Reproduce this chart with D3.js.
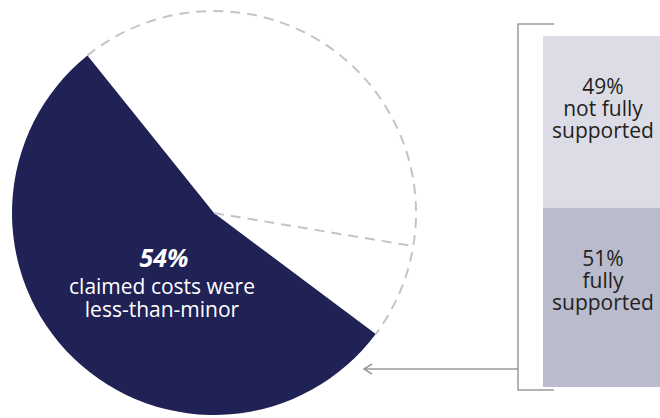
<!DOCTYPE html>
<html lang="en">
<head>
  <meta charset="utf-8" />
  <title>Claimed costs</title>
  <style>
    body { margin: 0; background: #fff; }
    text { font-family: "Open Sans", "Noto Sans", sans-serif; }
  </style>
  <script src="https://d3js.org/d3.v7.min.js"></script>
</head>
<body>
<script>

// pie: share of claims with less-than-minor costs, rest split in two white wedges
const pieLabels = ["less-than-minor", "other", "other-small"];
const pieValues = [54, 38.4, 7.6];
const pieText   = ["54%", "claimed costs were", "less-than-minor"];

// stacked bar on the right (top to bottom)
const barLabels = [["49%", "not fully", "supported"], ["51%", "fully", "supported"]];
const barValues = [49, 51];

const width = 660, height = 418;
const cx = 214, cy = 213, r = 202;
const navy = "#202155";
const dashGrey = "#c4c4c8";
const lineGrey = "#9a9a9e";

const svg = d3.select("body").append("svg")
  .attr("width", width)
  .attr("height", height);

// pie layout, starting at the lower right edge of the dark slice
const start = 126.8 * Math.PI / 180;
const pie = d3.pie().sort(null).startAngle(start).endAngle(start + 2 * Math.PI);
const arcs = pie(pieValues);

const arc = d3.arc().innerRadius(0).outerRadius(r);

const g = svg.append("g").attr("transform", `translate(${cx},${cy})`);

g.append("path")
  .attr("d", arc(arcs[0]))
  .attr("fill", navy);

// dashed outline only round the white part
const outline = d3.path();
outline.arc(0, 0, r, arcs[1].startAngle - Math.PI / 2, arcs[2].endAngle - Math.PI / 2);
g.append("path")
  .attr("d", outline.toString())
  .attr("fill", "none")
  .attr("stroke", dashGrey)
  .attr("stroke-width", 2)
  .attr("stroke-dasharray", "10,7");

// dashed radius between the two white wedges
const split = arcs[2].startAngle;
g.append("line")
  .attr("x1", 0).attr("y1", 0)
  .attr("x2", r * Math.sin(split))
  .attr("y2", -r * Math.cos(split))
  .attr("stroke", dashGrey)
  .attr("stroke-width", 2)
  .attr("stroke-dasharray", "10,7");

// pie label
const pt = svg.append("text")
  .attr("text-anchor", "middle")
  .attr("fill", "#fff");
pt.append("tspan").attr("x", 164).attr("y", 267)
  .attr("font-size", 25).attr("font-weight", "bold").attr("font-style", "italic")
  .text(pieText[0]);
pt.append("tspan").attr("x", 162).attr("y", 294)
  .attr("font-size", 21)
  .text(pieText[1]);
pt.append("tspan").attr("x", 162).attr("y", 317)
  .attr("font-size", 21)
  .text(pieText[2]);

// stacked bar
const y = d3.scaleLinear().domain([0, d3.sum(barValues)]).range([36, 387]);
const barX = 543, barW = 120;
const barColors = ["#dcdce6", "#babbcc"];

let acc = 0;
const bars = barValues.map((v, i) => {
  const b = {y0: y(acc), y1: y(acc + v), lines: barLabels[i], color: barColors[i]};
  acc += v;
  return b;
});

svg.selectAll("rect.bar")
  .data(bars)
  .join("rect")
    .attr("class", "bar")
    .attr("x", barX)
    .attr("y", d => d.y0)
    .attr("width", barW)
    .attr("height", d => d.y1 - d.y0)
    .attr("fill", d => d.color);

bars.forEach(b => {
  const t = svg.append("text")
    .attr("text-anchor", "middle")
    .attr("font-size", 21)
    .attr("fill", "#231f20");
  b.lines.forEach((s, k) => {
    t.append("tspan")
      .attr("x", 603)
      .attr("y", b.y0 + 58 + k * 22)
      .text(s);
  });
});

// bracket and arrow
const bx = 518;
svg.append("path")
  .attr("d", `M554,24 H${bx} V390 H554`)
  .attr("fill", "none")
  .attr("stroke", lineGrey)
  .attr("stroke-width", 1.5);

svg.append("line")
  .attr("x1", bx).attr("y1", 369)
  .attr("x2", 364).attr("y2", 369)
  .attr("stroke", lineGrey)
  .attr("stroke-width", 1.5);

svg.append("path")
  .attr("d", "M372,364 L364,369 L372,374")
  .attr("fill", "none")
  .attr("stroke", lineGrey)
  .attr("stroke-width", 1.5);

</script>
</body>
</html>
